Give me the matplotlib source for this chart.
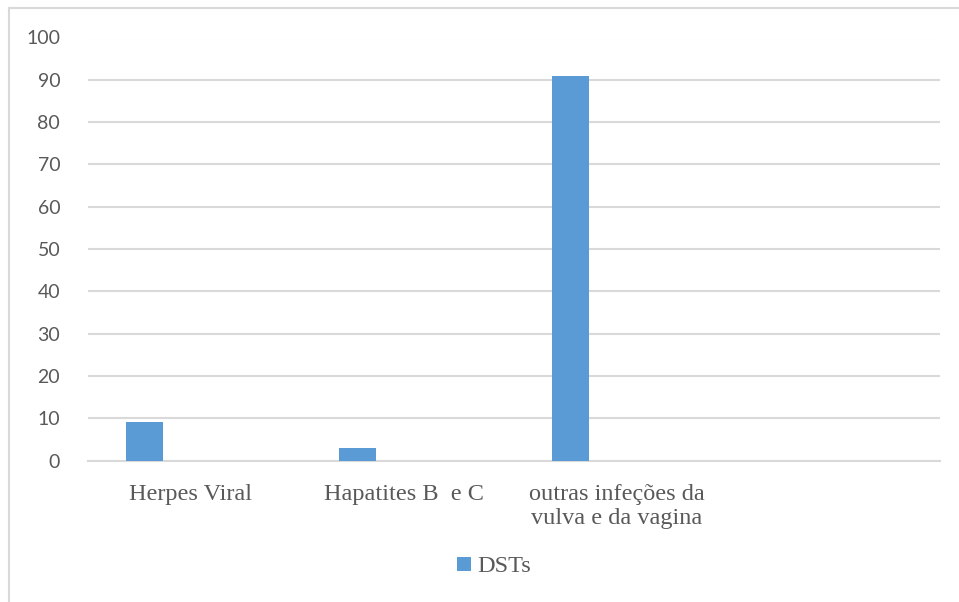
import numpy as np
import matplotlib.pyplot as plt
import matplotlib.transforms as mtransforms
from matplotlib.lines import Line2D

categorias = ['Herpes Viral', 'Hapatites B  e C', 'outras infeções da\nvulva e da vagina', '']
valores = [9, 3, 91, 0]
serie = 'DSTs'
yticks = [0, 10, 20, 30, 40, 50, 60, 70, 80, 90, 100]

W, H = 959, 602
fig = plt.figure(figsize=(W/100, H/100), dpi=100)
ax = fig.add_axes([88/W, 1-460.5/H, (940-88)/W, (460.5-37.5)/H])

x = np.arange(len(categorias)) + 0.5
# so no Excel, a barra fica deslocada para a esquerda dentro da categoria
ax.bar(x[:3]-0.235, valores[:3], width=0.174, color='#5b9bd5', zorder=3, label=serie)

ax.set_xlim(0, 4)
ax.set_ylim(0, 100)
ax.set_yticks(yticks)
ax.yaxis.grid(True, color='#d9d9d9', lw=1.5, zorder=0)
for s in ['top', 'right', 'left']:
    ax.spines[s].set_visible(False)
ax.spines['bottom'].set_color('#d9d9d9')
ax.spines['bottom'].set_linewidth(1.5)
ax.tick_params(axis='both', length=0)
ax.tick_params(axis='y', pad=20, labelsize=14, labelcolor='#595959')
for t in ax.get_yticklabels():
    t.set_family('Lato')
ax.set_xticks(x)
ax.set_xticklabels(categorias, family='Liberation Serif', fontsize=17.5,
                   color='#595959', linespacing=1.2)
ax.tick_params(axis='x', pad=17)
desloc = mtransforms.ScaledTranslation(-4/100, 0, fig.dpi_scale_trans)
for t in ax.get_xticklabels():
    t.set_transform(t.get_transform() + desloc)

leg = fig.legend(loc='center', bbox_to_anchor=(494/W, 1-567/H), frameon=False,
                 prop={'family': 'Liberation Serif', 'size': 17.5},
                 handlelength=0.55, handleheight=0.55, handletextpad=0.25)
for t in leg.get_texts():
    t.set_color('#595959')

# moldura do gráfico (só topo e esquerda aparecem na imagem)
fig.add_artist(Line2D([9/W, 9/W], [0, 1-8/H], transform=fig.transFigure, color='#d9d9d9', lw=1.5))
fig.add_artist(Line2D([9/W, 1], [1-8/H, 1-8/H], transform=fig.transFigure, color='#d9d9d9', lw=1.5))

fig.savefig('out.png', dpi=100)
